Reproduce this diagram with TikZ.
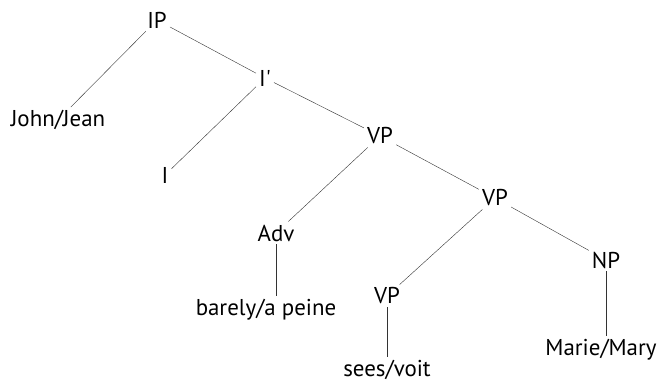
\documentclass[tikz,border=0pt]{standalone}
\usepackage{fontspec}
\setmainfont{PT Sans}
\usepackage{tikz}

\begin{document}
\begin{tikzpicture}[x=1bp,y=-1bp]
            \tikzstyle{every node}+=[inner sep=3pt, font=\fontsize{23}{27}\selectfont]
            \useasboundingbox (0,0) rectangle (660,385);
            \draw (157,20) node (IP) {IP};
            \draw (58,120) node (jean) {John/Jean};
            \draw (265,78) node (Ib) {I\textquotesingle};
            \draw (165,175) node (I) {I};
            \draw (380,136) node (VPa) {VP};
            \draw (276,233) node (adv) {Adv};
            \draw (266,310) node (peine) {barely/a peine};
            \draw (495,198) node (VPb) {VP};
            \draw (387,296) node (VPc) {VP};
            \draw (387,370) node (voit) {sees/voit};
            \draw (606,260) node (NP) {NP};
            \draw (601,350) node (marie) {Marie/Mary};
            \draw [black!80] (IP) -- (jean);
            \draw [black!80] (IP) -- (Ib);
            \draw [black!80] (Ib) -- (I);
            \draw [black!80] (Ib) -- (VPa);
            \draw [black!80] (VPa) -- (adv);
            \draw [black!80] (VPa) -- (VPb);
            \draw [black!80] (adv.south) -- (adv.south |- peine.north);
            \draw [black!80] (VPb) -- (VPc);
            \draw [black!80] (VPb) -- (NP);
            \draw [black!80] (VPc.south) -- (VPc.south |- voit.north);
            \draw [black!80] (NP.south) -- (NP.south |- marie.north);
        \end{tikzpicture}
\end{document}
